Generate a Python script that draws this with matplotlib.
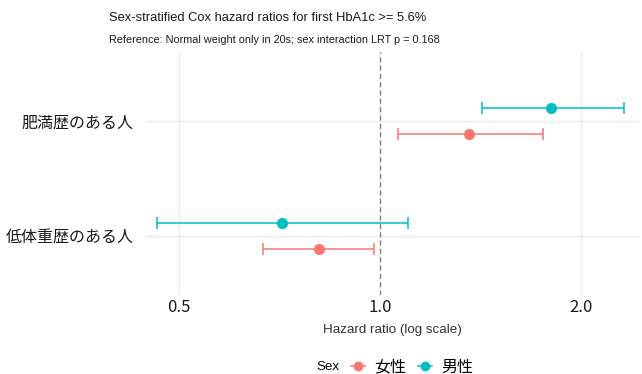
import numpy as np
import matplotlib
matplotlib.use("Agg")
import matplotlib.pyplot as plt
from matplotlib.lines import Line2D
from matplotlib.offsetbox import HPacker

# data
groups = ["低体重歴のある人", "肥満歴のある人"]
sexes = ["女性", "男性"]
colors = {"女性": "#F8766D", "男性": "#00BFC4"}
hr = {"女性": [0.81, 1.36], "男性": [0.713, 1.80]}
lo = {"女性": [0.668, 1.064], "男性": [0.464, 1.42]}
hi = {"女性": [0.98, 1.755], "男性": [1.10, 2.32]}
dodge = {"女性": -0.109, "男性": 0.109}
xticks = [0.5, 1.0, 2.0]

W, H = 642, 374
fig = plt.figure(figsize=(W / 100, H / 100), dpi=100)
ax = fig.add_axes([145 / W, 1 - 295 / H, (640 - 145) / W, (295 - 52) / H])

sans = ["Liberation Sans", "DejaVu Sans"]
cjk = ["Noto Sans CJK JP", "DejaVu Sans"]

ypos = np.arange(1, len(groups) + 1)
for s in sexes:
    y = ypos + dodge[s]
    x = np.array(hr[s])
    err = [x - np.array(lo[s]), np.array(hi[s]) - x]
    ax.errorbar(x, y, xerr=err, fmt="o", color=colors[s], ecolor=colors[s],
                elinewidth=1.1, capsize=4.5, capthick=1.1, markersize=7, zorder=3)

ax.axvline(1.0, color="#808080", linestyle=(0, (3.5, 2.5)), linewidth=1.0, zorder=2)

ax.set_xscale("log")
ax.set_xlim(0.445, 2.45)
ax.set_ylim(0.487, 2.6)
ax.set_xticks(xticks)
ax.set_xticklabels([f"{t:.1f}" for t in xticks], family=cjk, fontsize=12, color="#1a1a1a")
ax.xaxis.set_minor_locator(matplotlib.ticker.NullLocator())
ax.set_yticks(ypos)
ax.set_yticklabels(groups, family=cjk, fontsize=11.5, color="#1a1a1a")
ax.tick_params(axis="x", length=0, pad=3)
ax.tick_params(axis="y", length=0, pad=8)
ax.grid(True, color="#EBEBEB", linewidth=1.0, zorder=0)
for sp in ax.spines.values():
    sp.set_visible(False)
ax.set_xlabel("Hazard ratio (log scale)", family=sans, fontsize=9.6, color="#333333", labelpad=6)

fig.text(109 / W, 1 - 18 / H, "Sex-stratified Cox hazard ratios for first HbA1c >= 5.6%",
         family=sans, fontsize=9.3, ha="left", va="center", color="#1a1a1a")
fig.text(109 / W, 1 - 40 / H, "Reference: Normal weight only in 20s; sex interaction LRT p = 0.168",
         family=sans, fontsize=7.8, ha="left", va="center", color="#1a1a1a")

handles = [Line2D([0], [0], color=colors[s], marker="o", markersize=6, linewidth=1.1) for s in sexes]
leg = fig.legend(handles, sexes, loc="center", bbox_to_anchor=(395 / W, 1 - 367 / H), ncol=2,
                 frameon=False, title="Sex", handlelength=0.9, handletextpad=0.6,
                 columnspacing=0.7, prop={"family": cjk, "size": 11.5})
leg.get_title().set_fontfamily(sans)
leg.get_title().set_fontsize(9.6)
# put title to the left of the entries
box = leg._legend_box
box._children = [HPacker(children=[box._children[0], box._children[1]], pad=0, sep=8, align="center")]

fig.savefig("out.png", dpi=100)
